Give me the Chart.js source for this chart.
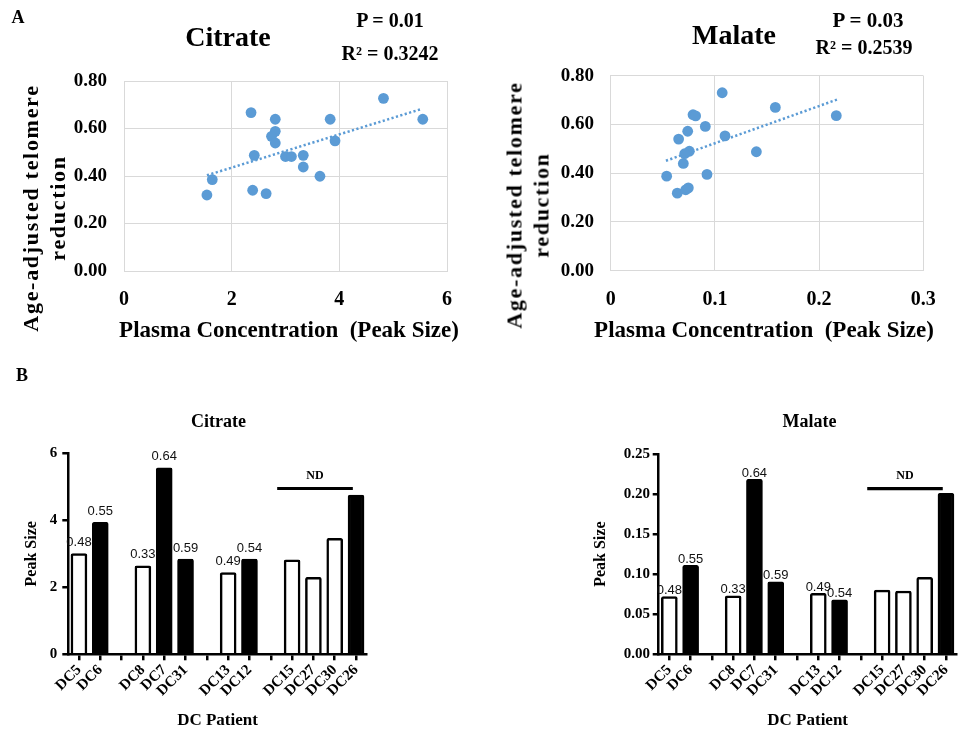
<!DOCTYPE html>
<html><head><meta charset="utf-8">
<script src="https://cdn.jsdelivr.net/npm/chart.js@4"></script>
<style>
html,body{margin:0;padding:0;background:#fff;}
#wrap{position:relative;width:963px;height:740px;overflow:hidden;font-family:"Liberation Serif","Times New Roman",serif;font-weight:bold;color:#000;}
canvas{position:absolute;}
.t{position:absolute;transform:translate(-50%,-50%);white-space:pre;line-height:1;}
.yt{position:absolute;transform:translate(-50%,-50%) rotate(-90deg);white-space:pre;text-align:center;font-size:22px;letter-spacing:1.7px;line-height:26.5px;}
</style></head><body>
<div id="wrap">
<canvas id="c1" width="480" height="350" style="left:0;top:0"></canvas>
<canvas id="c2" width="483" height="350" style="left:480px;top:0"></canvas>
<canvas id="c3" width="480" height="350" style="left:0;top:390px"></canvas>
<canvas id="c4" width="383" height="350" style="left:580px;top:390px"></canvas>
<div class="t" style="left:18px;top:17px;font-size:18px">A</div>
<div class="t" style="left:22px;top:375px;font-size:18px">B</div>
<div class="t" style="left:228px;top:37px;font-size:28px">Citrate</div>
<div class="t" style="left:390px;top:20px;font-size:20px">P = 0.01</div>
<div class="t" style="left:390px;top:53px;font-size:20px">R² = 0.3242</div>
<div class="t" style="left:734px;top:35px;font-size:28px">Malate</div>
<div class="t" style="left:868px;top:20px;font-size:21px">P = 0.03</div>
<div class="t" style="left:864px;top:47px;font-size:20px">R² = 0.2539</div>
<div class="yt" style="left:43.5px;top:208px">Age-adjusted telomere
reduction</div>
<div class="yt" style="left:528px;top:204.5px">Age-adjusted telomere
reduction</div>
<div class="t" id="xt1" style="left:289px;top:329px;font-size:23px"></div>
<div class="t" id="xt2" style="left:764px;top:329px;font-size:23px"></div>
<div class="t" style="left:218.5px;top:421px;font-size:18px">Citrate</div>
<div class="t" style="left:809.5px;top:421px;font-size:18px">Malate</div>
</div>
<script>
// ---------- Panel A: scatter data ----------
const citrateX = [2.36, 2.81, 2.81, 2.74, 2.81, 2.42, 3.00, 3.11, 3.33, 3.33, 3.64, 3.83, 3.92, 4.82, 5.55, 1.64, 1.54, 2.39, 2.64];
const citrateY = [0.667, 0.639, 0.588, 0.567, 0.539, 0.487, 0.482, 0.482, 0.487, 0.438, 0.399, 0.639, 0.548, 0.727, 0.639, 0.385, 0.320, 0.340, 0.326];
const citrateTrendX = [1.54, 5.51];
const citrateTrendY = [0.403, 0.681];

const malateX = [0.107, 0.158, 0.2165, 0.0790, 0.0815, 0.0908, 0.0739, 0.0652, 0.1097, 0.0755, 0.0710, 0.0697, 0.1398, 0.0537, 0.0924, 0.0639, 0.0720, 0.0745];
const malateY = [0.730, 0.670, 0.636, 0.640, 0.635, 0.592, 0.572, 0.540, 0.553, 0.490, 0.480, 0.440, 0.488, 0.388, 0.395, 0.318, 0.332, 0.340];
const malateTrendX = [0.053, 0.2185];
const malateTrendY = [0.451, 0.704];

const scatterXTitle = 'Plasma Concentration  (Peak Size)';

// ---------- Panel B: bar data ----------
const patients = ['DC5','DC6','','DC8','DC7','DC31','','DC13','DC12','','DC15','DC27','DC30','DC26'];
const citrateOpen   = [3.01, null, null, 2.64, null, null, null, 2.44, null, null, 2.82, 2.30, 3.46, null];
const citrateFilled = [null, 3.94, null, null, 5.57, 2.84, null, null, 2.84, null, null, null, null, 4.75];
const malateOpen    = [0.072, null, null, 0.073, null, null, null, 0.076, null, null, 0.080, 0.079, 0.096, null];
const malateFilled  = [null, 0.111, null, null, 0.2185, 0.0906, null, null, 0.068, null, null, null, null, 0.201];
const telomereLabels = ['0.48','0.55','','0.33','0.64','0.59','','0.49','0.54','','','','',''];
const ndFrom = 9.3, ndTo = 12.85; // category-index span of the "ND" bracket
const citrateNdLevel = 4.95, malateNdLevel = 0.2067;

document.getElementById('xt1').textContent = scatterXTitle;
document.getElementById('xt2').textContent = scatterXTitle;

const SERIF = '"Liberation Serif", "Times New Roman", serif';
const SANS = '"Liberation Sans", Arial, sans-serif';
const BLUE = '#5B9BD5';
const GRID = '#d9d9d9';

const pts = (xs, ys) => xs.map((x, i) => ({x, y: ys[i]}));

function scatterCfg(xs, ys, tx, ty, xmax, xstep, xfmt, area) {
  return {
    type: 'scatter',
    data: { datasets: [
      { type: 'line', data: pts(tx, ty), borderColor: BLUE, borderWidth: 2.5, borderDash: [2.2, 2.4],
        pointRadius: 0, fill: false, tension: 0, order: 2 },
      { data: pts(xs, ys), backgroundColor: BLUE, borderWidth: 0, pointRadius: 5.4, order: 1 }
    ]},
    options: {
      responsive: false, animation: false, devicePixelRatio: 1,
      layout: { padding: { top: area.top, right: area.right, left: 0, bottom: 0 } },
      plugins: { legend: { display: false }, tooltip: { enabled: false } },
      scales: {
        x: { type: 'linear', min: 0, max: xmax,
             ticks: { stepSize: xstep, padding: 17, color: '#000', font: { size: 20, weight: 'bold', family: SERIF }, callback: xfmt },
             grid: { color: GRID, drawTicks: false }, border: { color: GRID },
             afterFit(s) { s.height = area.xh; } },
        y: { min: 0, max: 0.8,
             ticks: { stepSize: 0.2, padding: area.yp, color: '#000', font: { size: 19, weight: 'bold', family: SERIF }, callback: v => v.toFixed(2) },
             grid: { color: GRID, drawTicks: false }, border: { color: GRID },
             afterFit(s) { s.width = area.left; } }
      }
    }
  };
}

new Chart(document.getElementById('c1'), scatterCfg(citrateX, citrateY, citrateTrendX, citrateTrendY, 6, 2,
  v => String(v), { top: 81, right: 33, left: 124, xh: 79, yp: 17 }));
new Chart(document.getElementById('c2'), scatterCfg(malateX, malateY, malateTrendX, malateTrendY, 0.3, 0.1,
  v => String(Math.round(v * 10) / 10), { top: 75.7, right: 39.7, left: 130.7, xh: 79.3, yp: 16.7 }));

const barLabels = {
  id: 'barLabels',
  afterDatasetsDraw(chart, args, opts) {
    const ctx = chart.ctx;
    ctx.save();
    ctx.font = '13px ' + SANS;
    ctx.fillStyle = '#111';
    ctx.textAlign = 'center';
    ctx.textBaseline = 'middle';
    chart.data.datasets.forEach((ds, di) => {
      chart.getDatasetMeta(di).data.forEach((el, i) => {
        if (ds.data[i] == null || !telomereLabels[i]) return;
        ctx.fillText(telomereLabels[i], el.x, el.y - opts.gap);
      });
    });
    ctx.restore();
  }
};
const ndMark = {
  id: 'ndMark',
  afterDraw(chart, args, opts) {
    const ctx = chart.ctx, sx = chart.scales.x, sy = chart.scales.y;
    const x1 = sx.getPixelForValue(ndFrom), x2 = sx.getPixelForValue(ndTo), y = sy.getPixelForValue(opts.level);
    ctx.save();
    ctx.strokeStyle = '#000'; ctx.lineWidth = 3.2;
    ctx.beginPath(); ctx.moveTo(x1, y); ctx.lineTo(x2, y); ctx.stroke();
    ctx.font = 'bold 12px ' + SERIF; ctx.fillStyle = '#000';
    ctx.textAlign = 'center'; ctx.textBaseline = 'middle';
    ctx.fillText('ND', (x1 + x2) / 2, y - 12.5);
    ctx.restore();
  }
};

function barCfg(open, filled, ymax, ystep, yfmt, area, gap, ndLevel) {
  const common = { borderColor: '#000', borderWidth: 2.5, grouped: false, barThickness: 16, borderRadius: 2 };
  return {
    type: 'bar',
    data: { labels: patients, datasets: [
      Object.assign({ label: 'open', data: open, backgroundColor: '#fff' }, common),
      Object.assign({ label: 'filled', data: filled, backgroundColor: '#000' }, common)
    ]},
    options: {
      responsive: false, animation: false, devicePixelRatio: 1,
      layout: { padding: { top: area.top, right: area.right, left: 0, bottom: 0 } },
      plugins: { legend: { display: false }, tooltip: { enabled: false },
                 barLabels: { gap }, ndMark: { level: ndLevel } },
      scales: {
        x: { offset: true,
             ticks: { autoSkip: false, minRotation: 45, maxRotation: 45, padding: 1, color: '#000', font: { size: 15, weight: 'bold', family: SERIF } },
             grid: { display: true, offset: false, drawOnChartArea: false, drawTicks: true, tickLength: 6, color: '#000', lineWidth: 2.5 },
             border: { color: '#000', width: 2.5 },
             title: { display: true, text: 'DC Patient', color: '#000', font: { size: 17, weight: 'bold', family: SERIF }, padding: { top: 0, bottom: 8.8 } },
             afterFit(s) { s.height = area.xh; } },
        y: { min: 0, max: ymax,
             ticks: { stepSize: ystep, padding: area.yp, color: '#000', font: { size: 15, weight: 'bold', family: SERIF }, callback: yfmt },
             grid: { display: true, drawOnChartArea: false, drawTicks: true, tickLength: 6, color: '#000', lineWidth: 2.5 },
             border: { color: '#000', width: 2.5 },
             title: { display: true, text: 'Peak Size', color: '#000', font: { size: 16, weight: 'bold', family: SERIF }, padding: { top: area.tp, bottom: 0 } },
             afterFit(s) { s.width = area.left; } }
      }
    },
    plugins: [barLabels, ndMark]
  };
}

new Chart(document.getElementById('c3'), barCfg(citrateOpen, citrateFilled, 6, 2, v => String(v),
  { top: 63.3, right: 113.3, left: 68.3, xh: 85.7, yp: 5, tp: 22.4 }, 11, citrateNdLevel));
new Chart(document.getElementById('c4'), barCfg(malateOpen, malateFilled, 0.25, 0.05, v => v.toFixed(2),
  { top: 64, right: 6.4, left: 78.7, xh: 85.7, yp: 2.7, tp: 11.4 }, 6, malateNdLevel));
</script>
</body></html>
